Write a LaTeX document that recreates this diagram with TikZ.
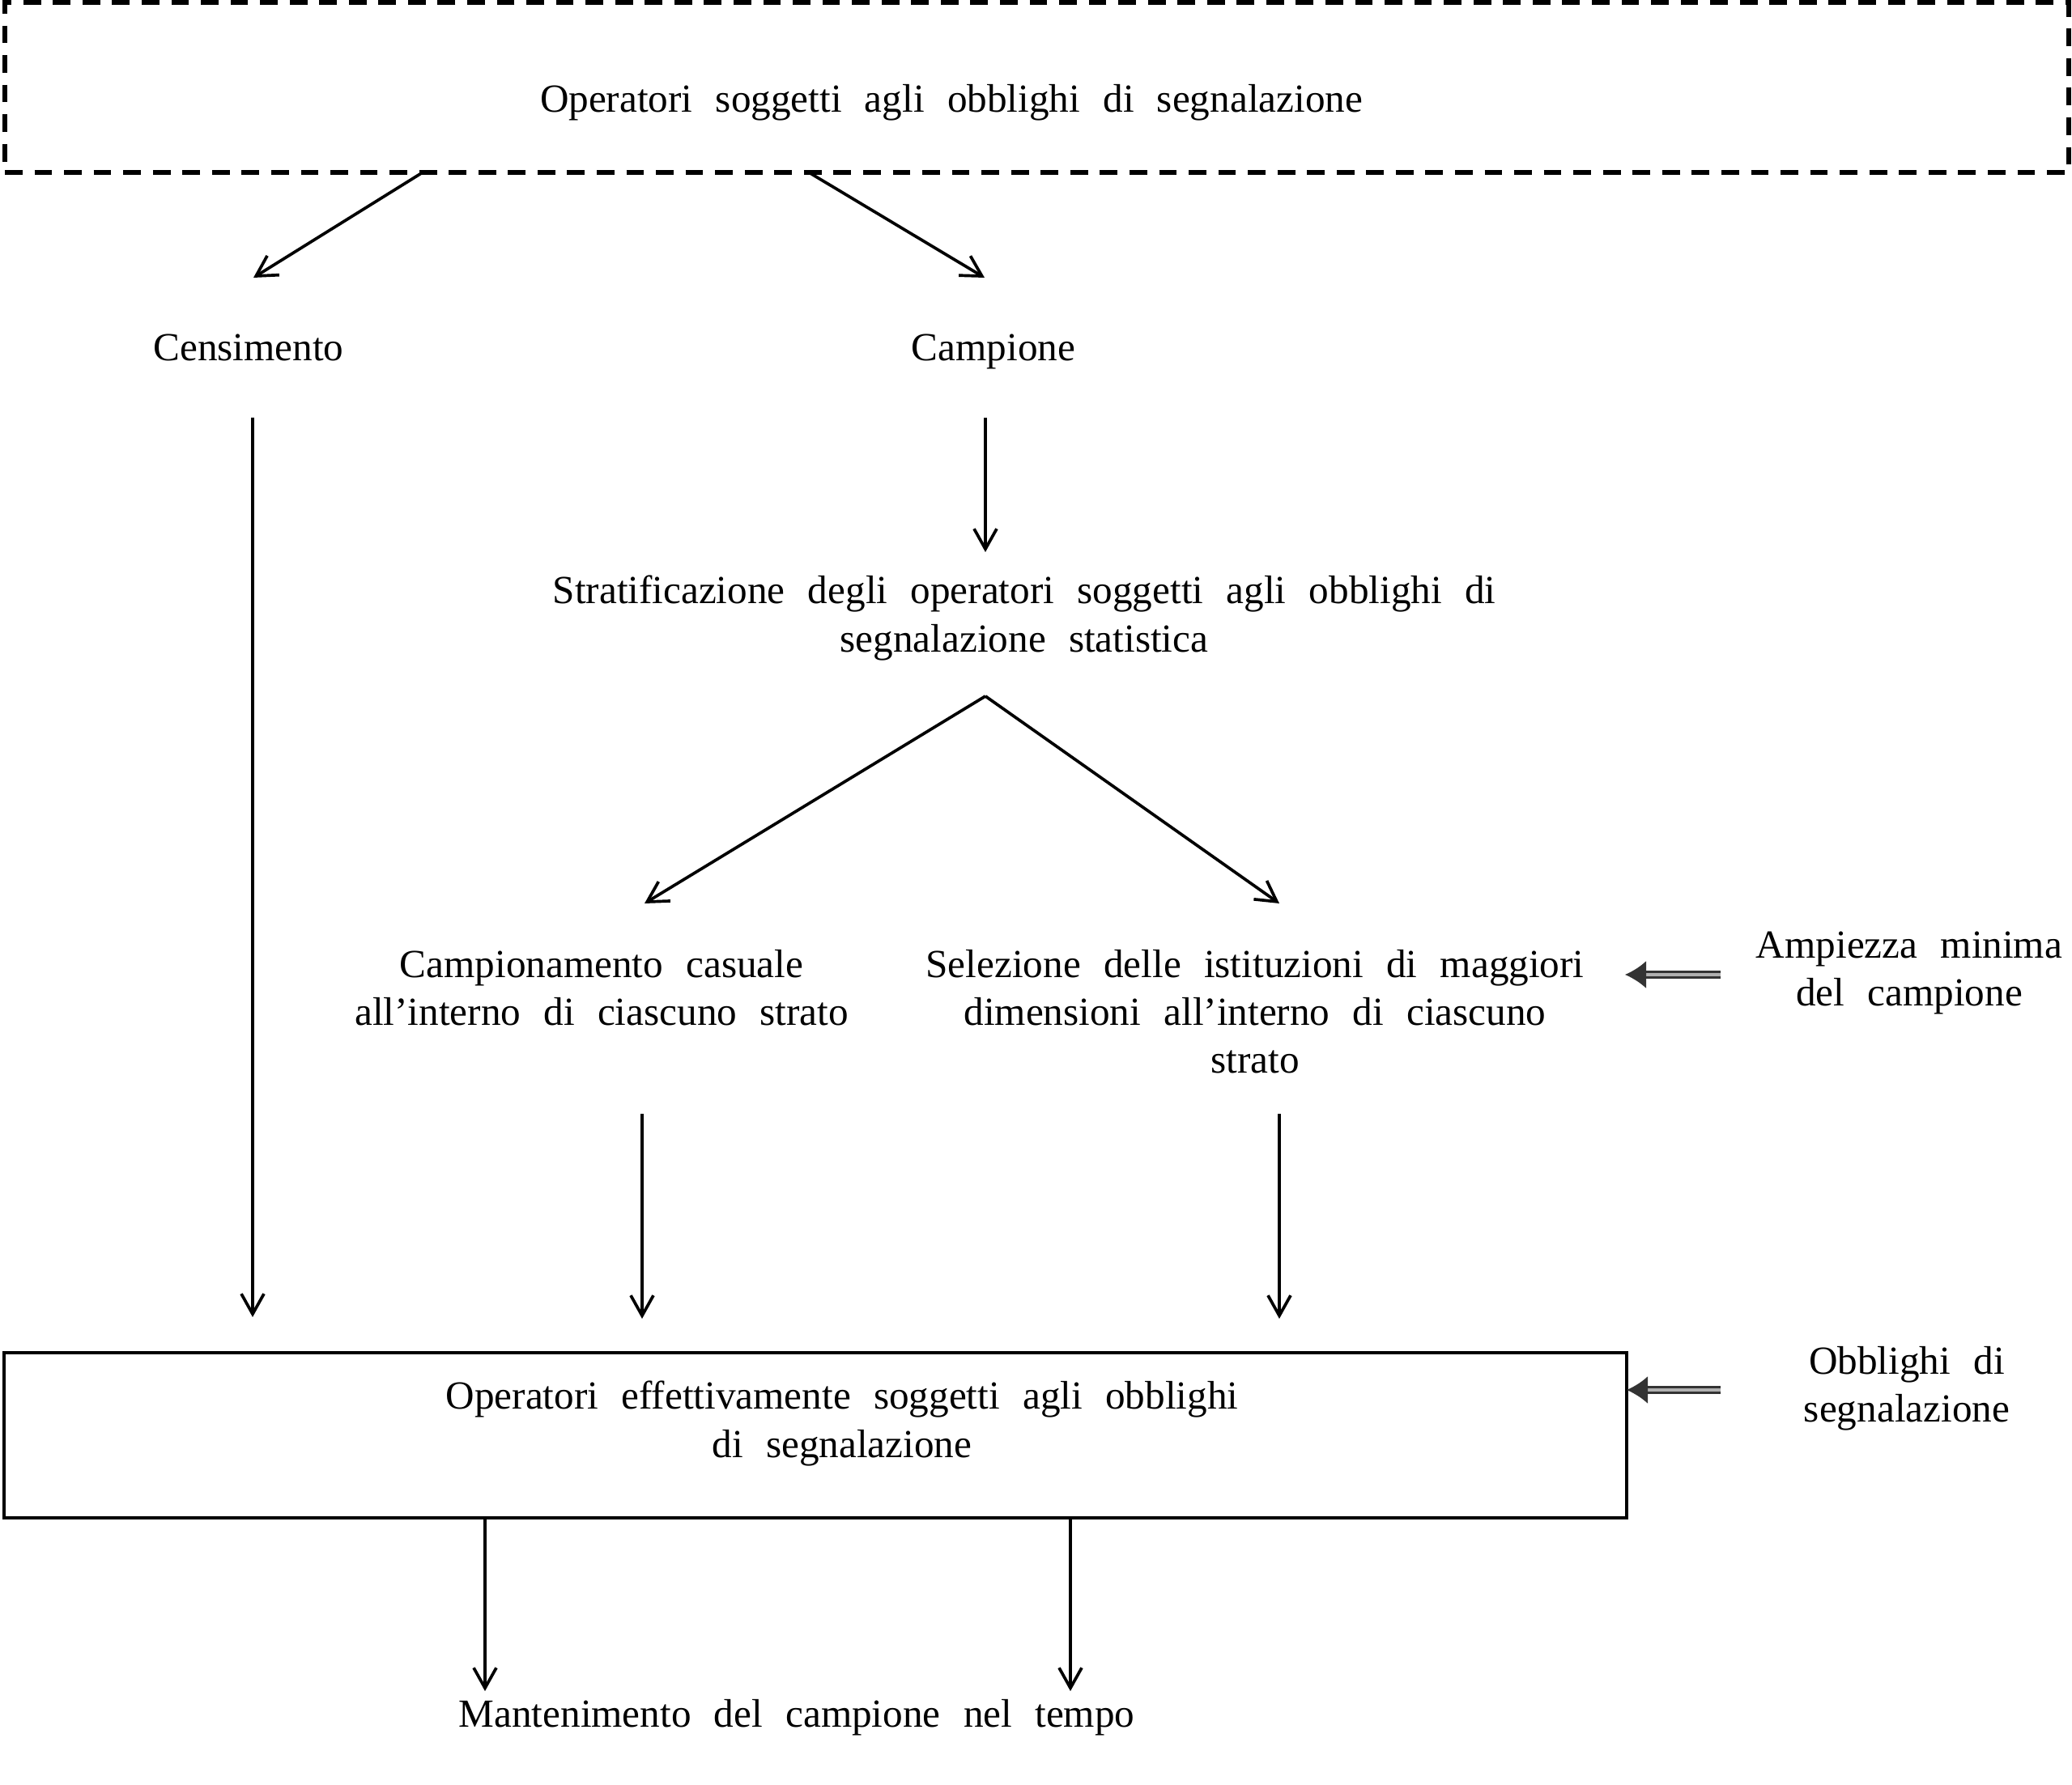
\documentclass[tikz,border=0pt]{standalone}
\usepackage{fontspec}
\setmainfont[WordSpace={2.3}]{Liberation Serif}
\usetikzlibrary{arrows.meta}
\definecolor{c333333}{RGB}{51,51,51}
\definecolor{cb0b0b0}{RGB}{176,176,176}
\def \globalscale {1.000000}

\begin{document}
\begin{tikzpicture}[y=1cm, x=1cm, yscale=\globalscale,xscale=\globalscale, every node/.append style={scale=\globalscale}, inner sep=0pt, outer sep=0pt,
  every node/.append style={font=\fontsize{14}{16.8}\selectfont, align=center},
  dashbox/.style={draw=black, line width=1.8pt, dash pattern=on 6.2pt off 4.2pt},
  solidbox/.style={draw=black, line width=1.3pt},
  arr/.style={draw=black, line width=1.05pt, -{Straight Barb[length=2.5mm,width=2.8mm]}},
  dblarr/.style={draw=c333333, line width=0.8pt, double=cb0b0b0, double distance=1.4pt, -{Latex[length=2.6mm,width=3.4mm]}}]
  \path[use as bounding box] (0.0, 0.0) rectangle (25.59, 22.05);



  \node[dashbox, minimum width=25.49cm, minimum height=2.10cm] (opsbox) at (12.805, 20.97) {};
  \node[text=black] (textops) at (11.75, 20.78) {Operatori soggetti agli obblighi di segnalazione};



  \node[text=black] (textcens) at (3.07, 17.76) {Censimento};
  \node[text=black] (textcamp) at (12.27, 17.71) {Campione};
  \path[arr] ([xshift=5.16cm]opsbox.south west) -- ([shift={(0.06,0.86)}]textcens.center);
  \path[arr] ([xshift=9.93cm]opsbox.south west) -- ([shift={(-0.11,0.91)}]textcamp.center);



  \node[text=black] (textstrat) at (12.65, 14.415) {Stratificazione degli operatori soggetti agli obblighi di\\segnalazione statistica};
  \path[arr] ([shift={(-0.10,-0.82)}]textcamp.center) -- ([shift={(-0.48,0.815)}]textstrat.center);



  \node[text=black] (textrand) at (7.43, 9.85) {Campionamento casuale\\all’interno di ciascuno strato};
  \node[text=black] (textsel) at (15.50, 9.55) {Selezione delle istituzioni di maggiori\\dimensioni all’interno di ciascuno\\strato};
  \path[arr] ([shift={(-0.48,-0.965)}]textstrat.center) -- ([shift={(0.53,1.04)}]textrand.center);
  \path[arr] ([shift={(-0.48,-0.965)}]textstrat.center) -- ([shift={(0.30,1.34)}]textsel.center);



  \node[text=black] (textampl) at (23.58, 10.035) {Ampiezza minima\\del campione};
  \path[dblarr] ([shift={(-2.33,-0.025)}]textampl.center) -- ([shift={(-3.51,-0.025)}]textampl.center);



  \node[solidbox, minimum width=20.04cm, minimum height=2.04cm] (effbox) at (10.07, 4.32) {};
  \node[text=black] (texteff) at (10.40, 4.465) {Operatori effettivamente soggetti agli obblighi\\di segnalazione};
  \path[arr] ([shift={(0.05,-0.87)}]textcens.center) -- ([shift={(3.07,0.44)}]effbox.north west);
  \path[arr] ([shift={(0.50,-1.56)}]textrand.center) -- ([shift={(7.88,0.42)}]effbox.north west);
  \path[arr] ([shift={(0.30,-1.26)}]textsel.center) -- ([shift={(15.75,0.42)}]effbox.north west);



  \node[text=black] (textobb) at (23.55, 4.895) {Obblighi di\\segnalazione};
  \path[dblarr] ([shift={(-2.30,-0.015)}]textobb.center) -- ([yshift=0.56cm]effbox.east);



  \node[text=black] (textmant) at (9.84, 0.83) {Mantenimento del campione nel tempo};
  \path[arr] ([xshift=5.94cm]effbox.south west) -- ([shift={(-3.85,0.33)}]textmant.center);
  \path[arr] ([xshift=13.17cm]effbox.south west) -- ([shift={(3.38,0.33)}]textmant.center);

\end{tikzpicture}
\end{document}
